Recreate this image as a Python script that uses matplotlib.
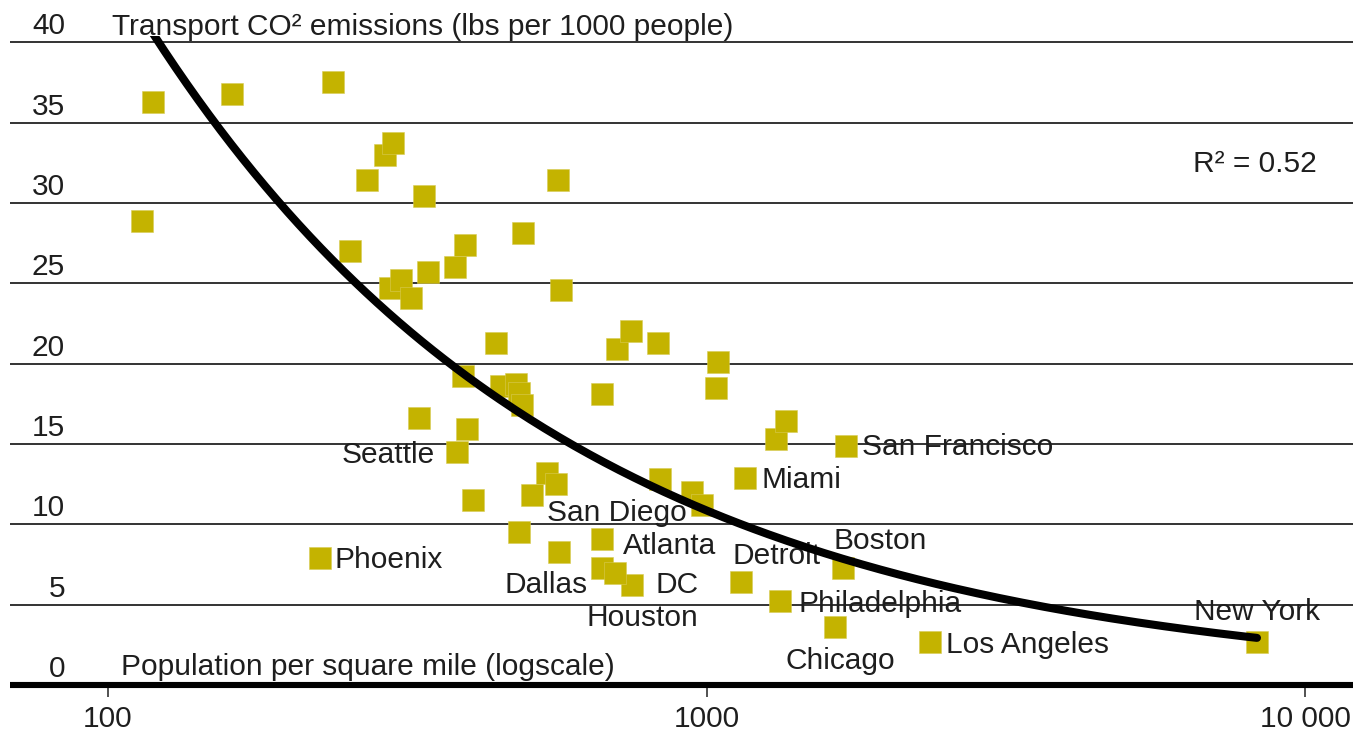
import numpy as np
import matplotlib
matplotlib.use("Agg")
import matplotlib.pyplot as plt
from matplotlib.ticker import NullLocator

plt.rcParams["font.family"] = ["Liberation Sans", "DejaVu Sans"]

# Metro areas: population density (people per sq mile) vs transport CO2
other_density = [114, 119, 161, 238, 254, 271, 290, 299, 337, 296, 309, 321,
                 343, 380, 395, 494, 565, 571, 445, 392, 454, 481, 486, 492,
                 669, 331, 398, 407, 541, 560, 486, 567, 709, 748, 830, 1045,
                 1037, 836, 946, 983, 1307, 1358]
other_co2 = [28.9, 36.3, 36.8, 37.5, 27.0, 31.4, 33.0, 33.7, 30.4, 24.7, 25.2,
             24.1, 25.7, 26.0, 27.4, 28.1, 31.4, 24.6, 21.3, 19.2, 18.6, 18.7,
             18.2, 17.4, 18.1, 16.6, 15.9, 11.5, 13.2, 12.5, 9.5, 8.3, 20.9,
             22.0, 21.3, 20.1, 18.5, 12.8, 12.0, 11.2, 15.3, 16.4]

city_names = ["Seattle", "Phoenix", "San Diego", "Atlanta", "Dallas", "DC",
              "Houston", "Detroit", "Boston", "Miami", "San Francisco",
              "Philadelphia", "Chicago", "Los Angeles", "New York"]
city_density = [383, 226, 511, 669, 669, 751, 703, 1142, 1691, 1159, 1711,
                1327, 1640, 2363, 8313]
city_co2 = [14.5, 7.9, 11.8, 9.1, 7.3, 6.2, 7.0, 6.4, 7.3, 12.9, 14.9, 5.2,
            3.6, 2.7, 2.7]

# label placement: offset in pixels from the marker, horizontal alignment
label_style = {
    "Seattle": (-22, -11, "right"),
    "Phoenix": (15, -10, "left"),
    "San Diego": (15, -26, "left"),
    "Atlanta": (21, -15, "left"),
    "Dallas": (-14, -25, "right"),
    "DC": (23, -8, "left"),
    "Houston": (27, -53, "center"),
    "Detroit": (36, 18, "center"),
    "Boston": (-10, 19, "left"),
    "Miami": (17, -10, "left"),
    "San Francisco": (16, -9, "left"),
    "Philadelphia": (18, -11, "left"),
    "Chicago": (5, -42, "center"),
    "Los Angeles": (16, -11, "left"),
    "New York": (0, 22, "center"),
}

y_ticks = [0, 5, 10, 15, 20, 25, 30, 35, 40]
x_ticks = [100, 1000, 10000]
x_tick_labels = ["100", "1000", "10 000"]
r2_text = "R\u00b2 = 0.52"

W, H = 1358, 739
fig = plt.figure(figsize=(W / 100, H / 100), dpi=100)
# axes: left 10px, right 1353px, y=0 at 685px, top edge at 36px
ax = fig.add_axes([10 / W, (H - 685) / H, 1343 / W, 649 / H])
px_per_dec = 598.5
x100_px = 108
ax.set_xscale("log")

text_color = "#1e1e1e"
marker_color = "#C4B300"
fs = 21.5

for s in ["top", "left", "right"]:
    ax.spines[s].set_visible(False)
ax.spines["bottom"].set_linewidth(4.4)
ax.spines["bottom"].set_color("black")
ax.spines["bottom"].set_capstyle("butt")

for v in y_ticks[1:]:
    ax.axhline(v, color="#333333", lw=1.4, zorder=1)

all_density = np.array(other_density + city_density, dtype=float)
all_co2 = np.array(other_co2 + city_co2, dtype=float)
ax.plot(all_density, all_co2, linestyle="none", marker="s", ms=15.8,
        mfc=marker_color, mec="#d8cc55", mew=0.4, zorder=2)

# power-law trend line fitted in log-log space
b, ln_a = np.polyfit(np.log(all_density), np.log(all_co2), 1)
xs = np.logspace(np.log10(all_density.min()), np.log10(all_density.max()), 300)
ax.plot(xs, np.exp(ln_a) * xs ** b, color="black", lw=5.8,
        solid_capstyle="round", zorder=4)

ax.set_xlim(10 ** (2 + (10 - x100_px) / px_per_dec),
            10 ** (2 + (1353 - x100_px) / px_per_dec))
ax.set_ylim(0, 649 / 16.07)

ax.set_yticks([])
ax.set_xticks(x_ticks)
ax.set_xticklabels(x_tick_labels, fontsize=fs, color=text_color)
ax.xaxis.set_minor_locator(NullLocator())
ax.tick_params(axis="x", direction="out", length=8.6, width=1.1,
               color="#222222", pad=6)

for v in y_ticks:
    ax.annotate(str(v), xy=(0, v), xycoords=("axes fraction", "data"),
                xytext=(55, 8), textcoords="offset pixels", ha="right",
                va="baseline", fontsize=fs, color=text_color)

for name, xv, yv in zip(city_names, city_density, city_co2):
    dx, dy, ha = label_style[name]
    ax.annotate(name, xy=(xv, yv), xytext=(dx, dy), textcoords="offset pixels",
                ha=ha, va="baseline", fontsize=fs, color=text_color, zorder=3)

fig.text(112 / W, 1 - 35 / H, "Transport CO\u00b2 emissions (lbs per 1000 people)",
         fontsize=fs, color=text_color, ha="left", va="baseline")
fig.text(121 / W, 1 - 675 / H, "Population per square mile (logscale)",
         fontsize=fs, color=text_color, ha="left", va="baseline")
fig.text(1193 / W, 1 - 172 / H, r2_text, fontsize=fs, color=text_color,
         ha="left", va="baseline")

fig.savefig("out.png", dpi=100)
